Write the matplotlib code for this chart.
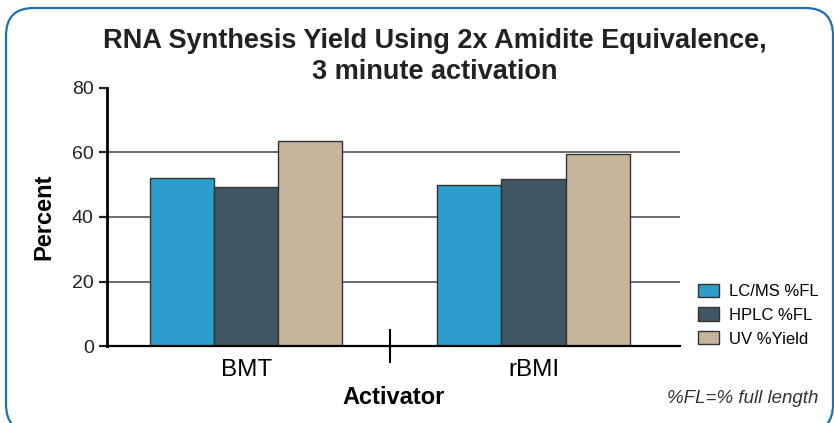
import matplotlib
matplotlib.use('Agg')
from matplotlib import pyplot as plt
from matplotlib.patches import FancyBboxPatch
import numpy as np

plt.rcParams['font.family'] = ['Liberation Sans', 'DejaVu Sans']

# data
activators = ['BMT', 'rBMI']
series = ['LC/MS %FL', 'HPLC %FL', 'UV %Yield']
lcms = [52.2, 49.8]
hplc = [49.2, 51.7]
uv = [63.6, 59.4]
colors = ['#2b9ecb', '#3f5663', '#c4b49b']

fig = plt.figure(figsize=(8.34, 4.23), dpi=100)
ax = fig.add_axes([0.1283, 0.182, 0.6870, 0.610])

x = np.arange(len(activators))
w = 0.223
for i, (vals, lab) in enumerate(zip([lcms, hplc, uv], series)):
    ax.bar(x + (i - 1) * w, vals, w, color=colors[i], edgecolor='#333333',
           linewidth=1.0, label=lab, zorder=3)

ax.set_xlim(-0.485, 1.51)
ax.set_ylim(0, 80)
ax.set_yticks([0, 20, 40, 60, 80])
for g in [20, 40, 60]:
    ax.axhline(g, color='#444444', linewidth=1.1, zorder=1)

ax.spines['top'].set_visible(False)
ax.spines['right'].set_visible(False)
ax.spines['left'].set_linewidth(2.0)
ax.spines['bottom'].set_linewidth(1.6)
ax.spines['left'].set_zorder(4)
ax.spines['bottom'].set_zorder(4)

ax.set_xticks(x)
ax.set_xticklabels(activators, fontsize=17.5)
ax.set_xticks([0.5], minor=True)
ax.tick_params(axis='x', which='major', length=0, pad=9)
ax.tick_params(axis='x', which='minor', direction='inout', length=24, width=1.5)
ax.tick_params(axis='y', length=6, width=1.6, labelsize=14, colors='#222222')

ax.set_ylabel('Percent', fontsize=17, fontweight='bold', labelpad=12)
ax.set_xlabel('Activator', fontsize=17, fontweight='bold', labelpad=4)

fig.text(0.5216, 0.866, 'RNA Synthesis Yield Using 2x Amidite Equivalence,\n3 minute activation',
         ha='center', va='center', fontsize=19.5, fontweight='bold',
         color='#222222', linespacing=1.28)

leg = ax.legend(loc='center left', bbox_to_anchor=(1.005, 0.12), frameon=False,
                fontsize=12, handlelength=1.3, handleheight=0.85,
                labelspacing=0.5, handletextpad=0.6)

fig.text(0.981, 0.058, '%FL=% full length', ha='right', va='center',
         fontsize=13.5, style='italic', color='#333333')

# rounded blue frame, running off the bottom and right edges like the reference
border = FancyBboxPatch((6 / 834, -9 / 423), 827 / 834, 424 / 423,
                        boxstyle='round,pad=0,rounding_size=0.033',
                        transform=fig.transFigure, fill=False,
                        edgecolor='#1f6fb5', linewidth=1.6, mutation_aspect=834 / 423)
fig.patches.append(border)

fig.savefig('out.png', dpi=100)
